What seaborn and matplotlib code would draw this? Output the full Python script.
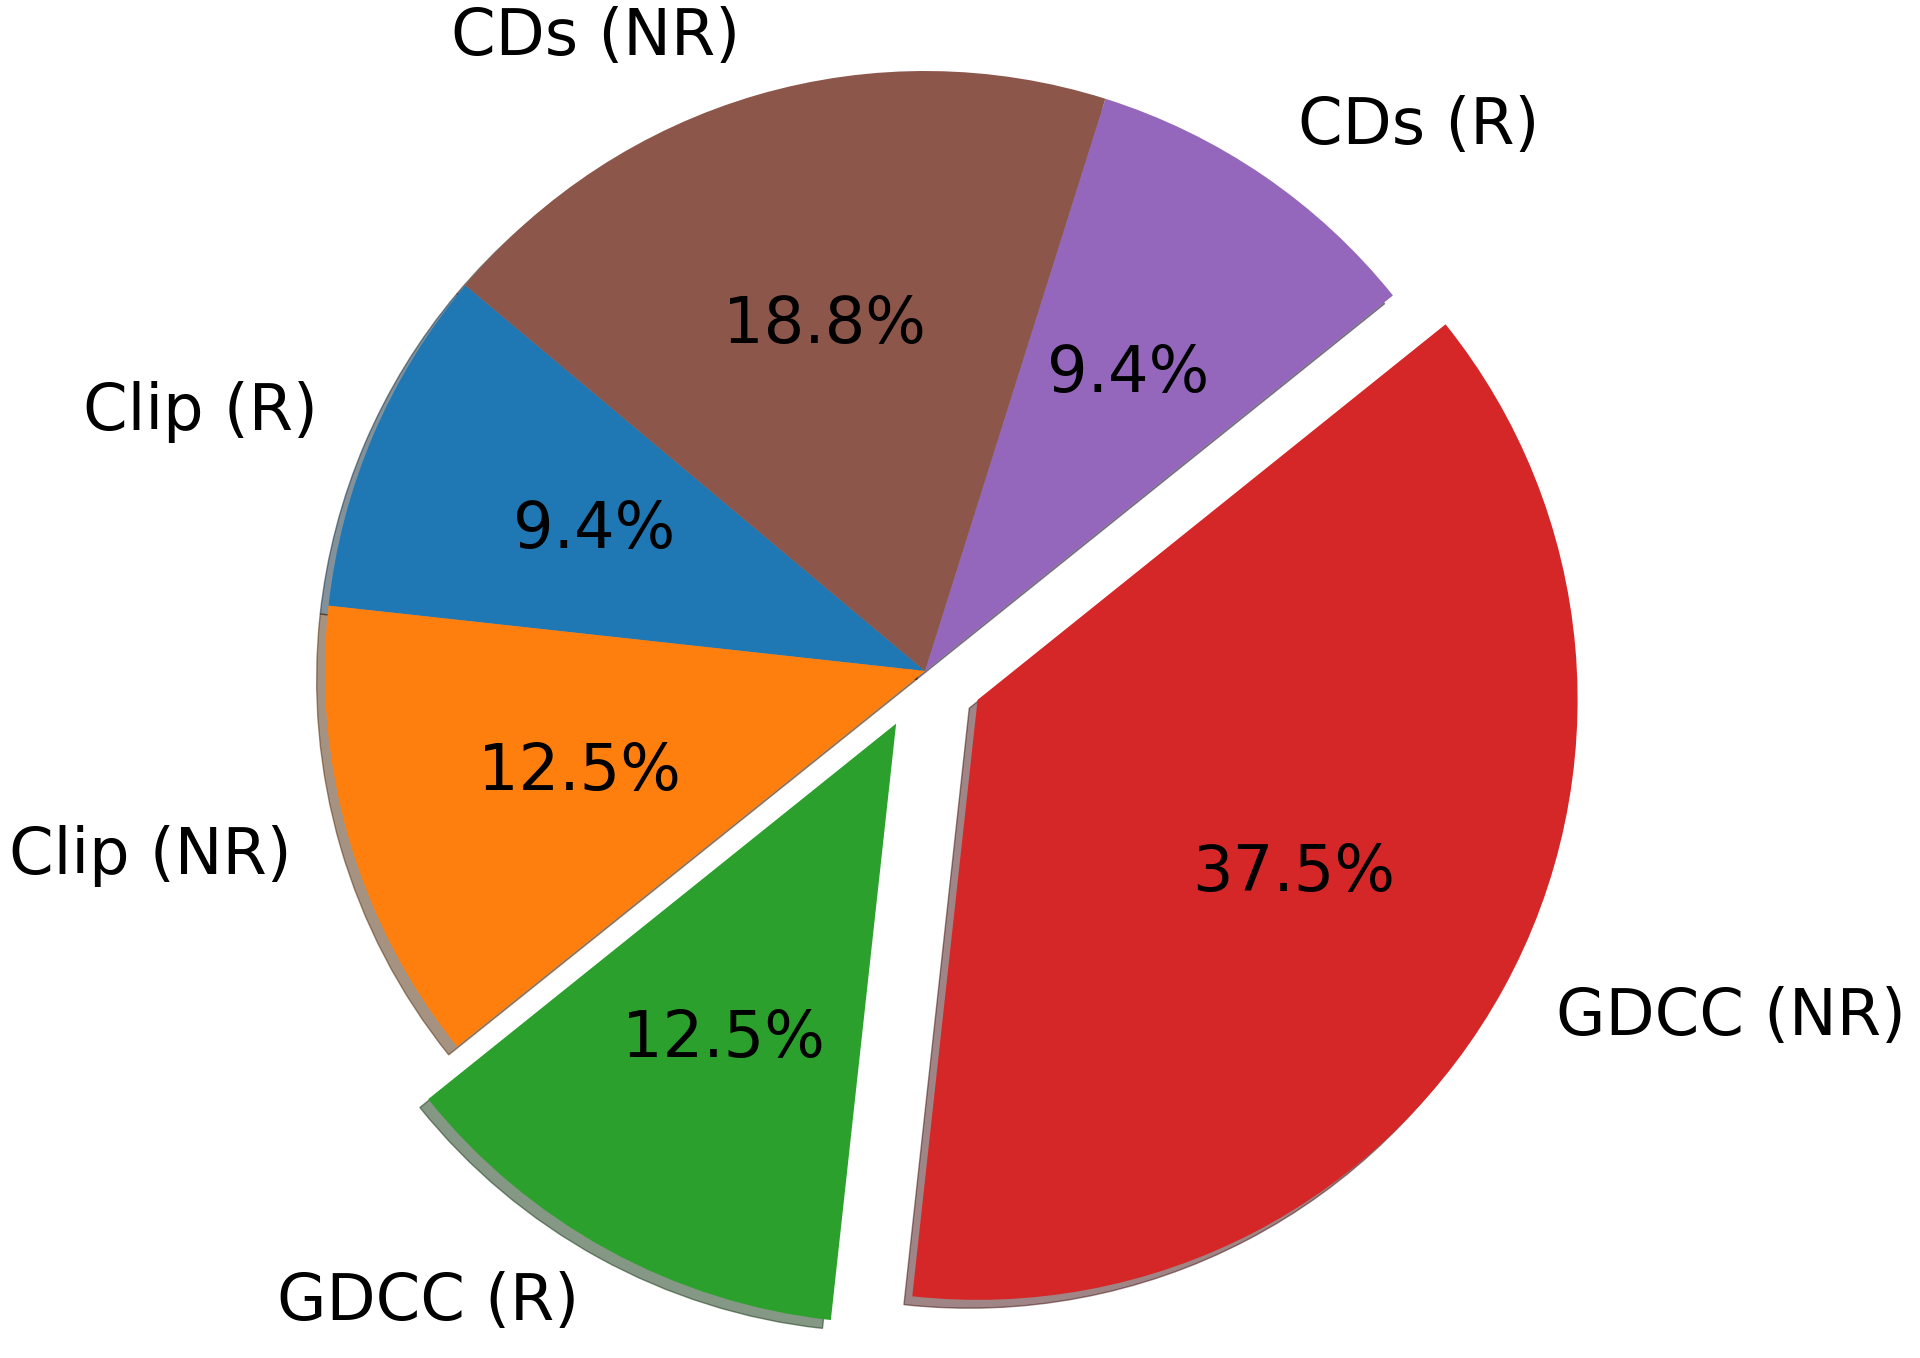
import matplotlib
matplotlib.use("Agg")
import seaborn as sns
from matplotlib import pyplot as plt

# data
LABELS = ["Clip (R)", "Clip (NR)", "GDCC (R)", "GDCC (NR)", "CDs (R)", "CDs (NR)"]
COUNTS = [3, 4, 4, 12, 3, 6]
EXPLODE = [0, 0, 0.1, 0.1, 0, 0]


def main():
    # plain matplotlib look: black text, no white wedge edges
    sns.set_style("white", rc={"text.color": "black", "patch.edgecolor": "none"})
    colors = sns.color_palette("tab10", n_colors=len(LABELS))

    fig = plt.figure(figsize=(19.2, 13.58), dpi=100)
    ax = fig.add_axes([0, 0, 1, 1])
    ax.pie(COUNTS, labels=LABELS, colors=colors, explode=EXPLODE,
           autopct="%1.1f%%", shadow={"ox": -0.01, "oy": -0.01},
           startangle=140, textprops={"fontsize": 46, "color": "black"})
    # place the pie where it sits in the reference
    r_px = 600
    cx, cy = 925, 671
    ax.set_xlim(-cx / r_px, (1920 - cx) / r_px)
    ax.set_ylim(-(1358 - cy) / r_px, cy / r_px)
    ax.set_aspect("equal")
    ax.axis("off")
    fig.savefig("out.png", dpi=100)


if __name__ == "__main__":
    main()
